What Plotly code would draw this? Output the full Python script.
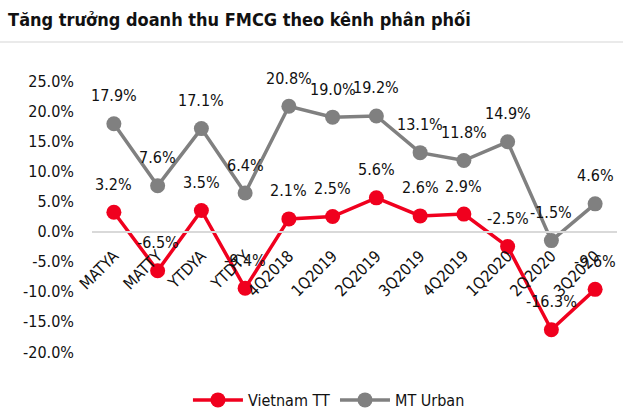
import plotly.graph_objects as go

categories = ["MATYA", "MATTY", "YTDYA", "YTDTY", "4Q2018", "1Q2019", "2Q2019",
              "3Q2019", "4Q2019", "1Q2020", "2Q2020", "3Q2020"]
vietnam_tt = [3.2, -6.5, 3.5, -9.4, 2.1, 2.5, 5.6, 2.6, 2.9, -2.5, -16.3, -9.6]
mt_urban = [17.9, 7.6, 17.1, 6.4, 20.8, 19.0, 19.2, 13.1, 11.8, 14.9, -1.5, 4.6]
y_ticks = [25, 20, 15, 10, 5, 0, -5, -10, -15, -20]

FONT = "DejaVu Sans Condensed, Liberation Sans Narrow, sans-serif"
RED = "#F0001E"
GRAY = "#808080"

fig = go.Figure()
series = [("Vietnam TT", vietnam_tt, RED), ("MT Urban", mt_urban, GRAY)]
for name, vals, col in series:
    fig.add_trace(go.Scatter(
        x=categories, y=vals, name=name, mode="lines+markers",
        line=dict(color=col, width=3.5),
        marker=dict(color=col, size=15),
        cliponaxis=False,
    ))
for name, vals, col in series:
    for c, v in zip(categories, vals):
        fig.add_annotation(x=c, y=v, text=f"{v:.1f}%", showarrow=False,
                           yanchor="middle", xanchor="center", yshift=28,
                           font=dict(family=FONT, size=16, color="#111111"))

y0 = -20
y1 = 25
zero_frac = (0 - y0) / (y1 - y0)

fig.update_layout(
    width=623, height=411,
    margin=dict(l=92, r=6, t=81, b=59, autoexpand=False),
    paper_bgcolor="white", plot_bgcolor="white",
    font=dict(family=FONT, size=16, color="#111111"),
    title=dict(text="<b>Tăng trưởng doanh thu FMCG theo kênh phân phối</b>",
               x=0.013, xanchor="left", y=0.952, yanchor="middle",
               font=dict(family=FONT, size=18, color="#111111")),
    showlegend=True,
    legend=dict(orientation="h", xref="container", x=0.528, xanchor="center",
                yref="container", y=(411 - 400) / 411, yanchor="middle",
                font=dict(family=FONT, size=16, color="#111111"),
                itemwidth=50, tracegroupgap=0),
    xaxis=dict(type="category", range=[-0.5, 11.5], anchor="free", position=zero_frac,
               showline=True, linecolor="#d9d9d9", linewidth=1.5,
               showgrid=False, ticks="", tickangle=-45, ticklabelstandoff=8,
               tickfont=dict(family=FONT, size=16, color="#111111")),
    yaxis=dict(range=[y0, y1], tickvals=y_ticks,
               ticktext=[f"{v:.1f}%" for v in y_ticks],
               showgrid=False, zeroline=False, showline=False, ticks="",
               ticklabelstandoff=17,
               tickfont=dict(family=FONT, size=16, color="#111111")),
)
fig.add_shape(type="line", xref="paper", yref="paper",
              x0=-92/525, x1=1 + 6/525, y0=1 + 39/271, y1=1 + 39/271,
              line=dict(color="#e3e3e3", width=1.5))

fig.write_html("out.html")
